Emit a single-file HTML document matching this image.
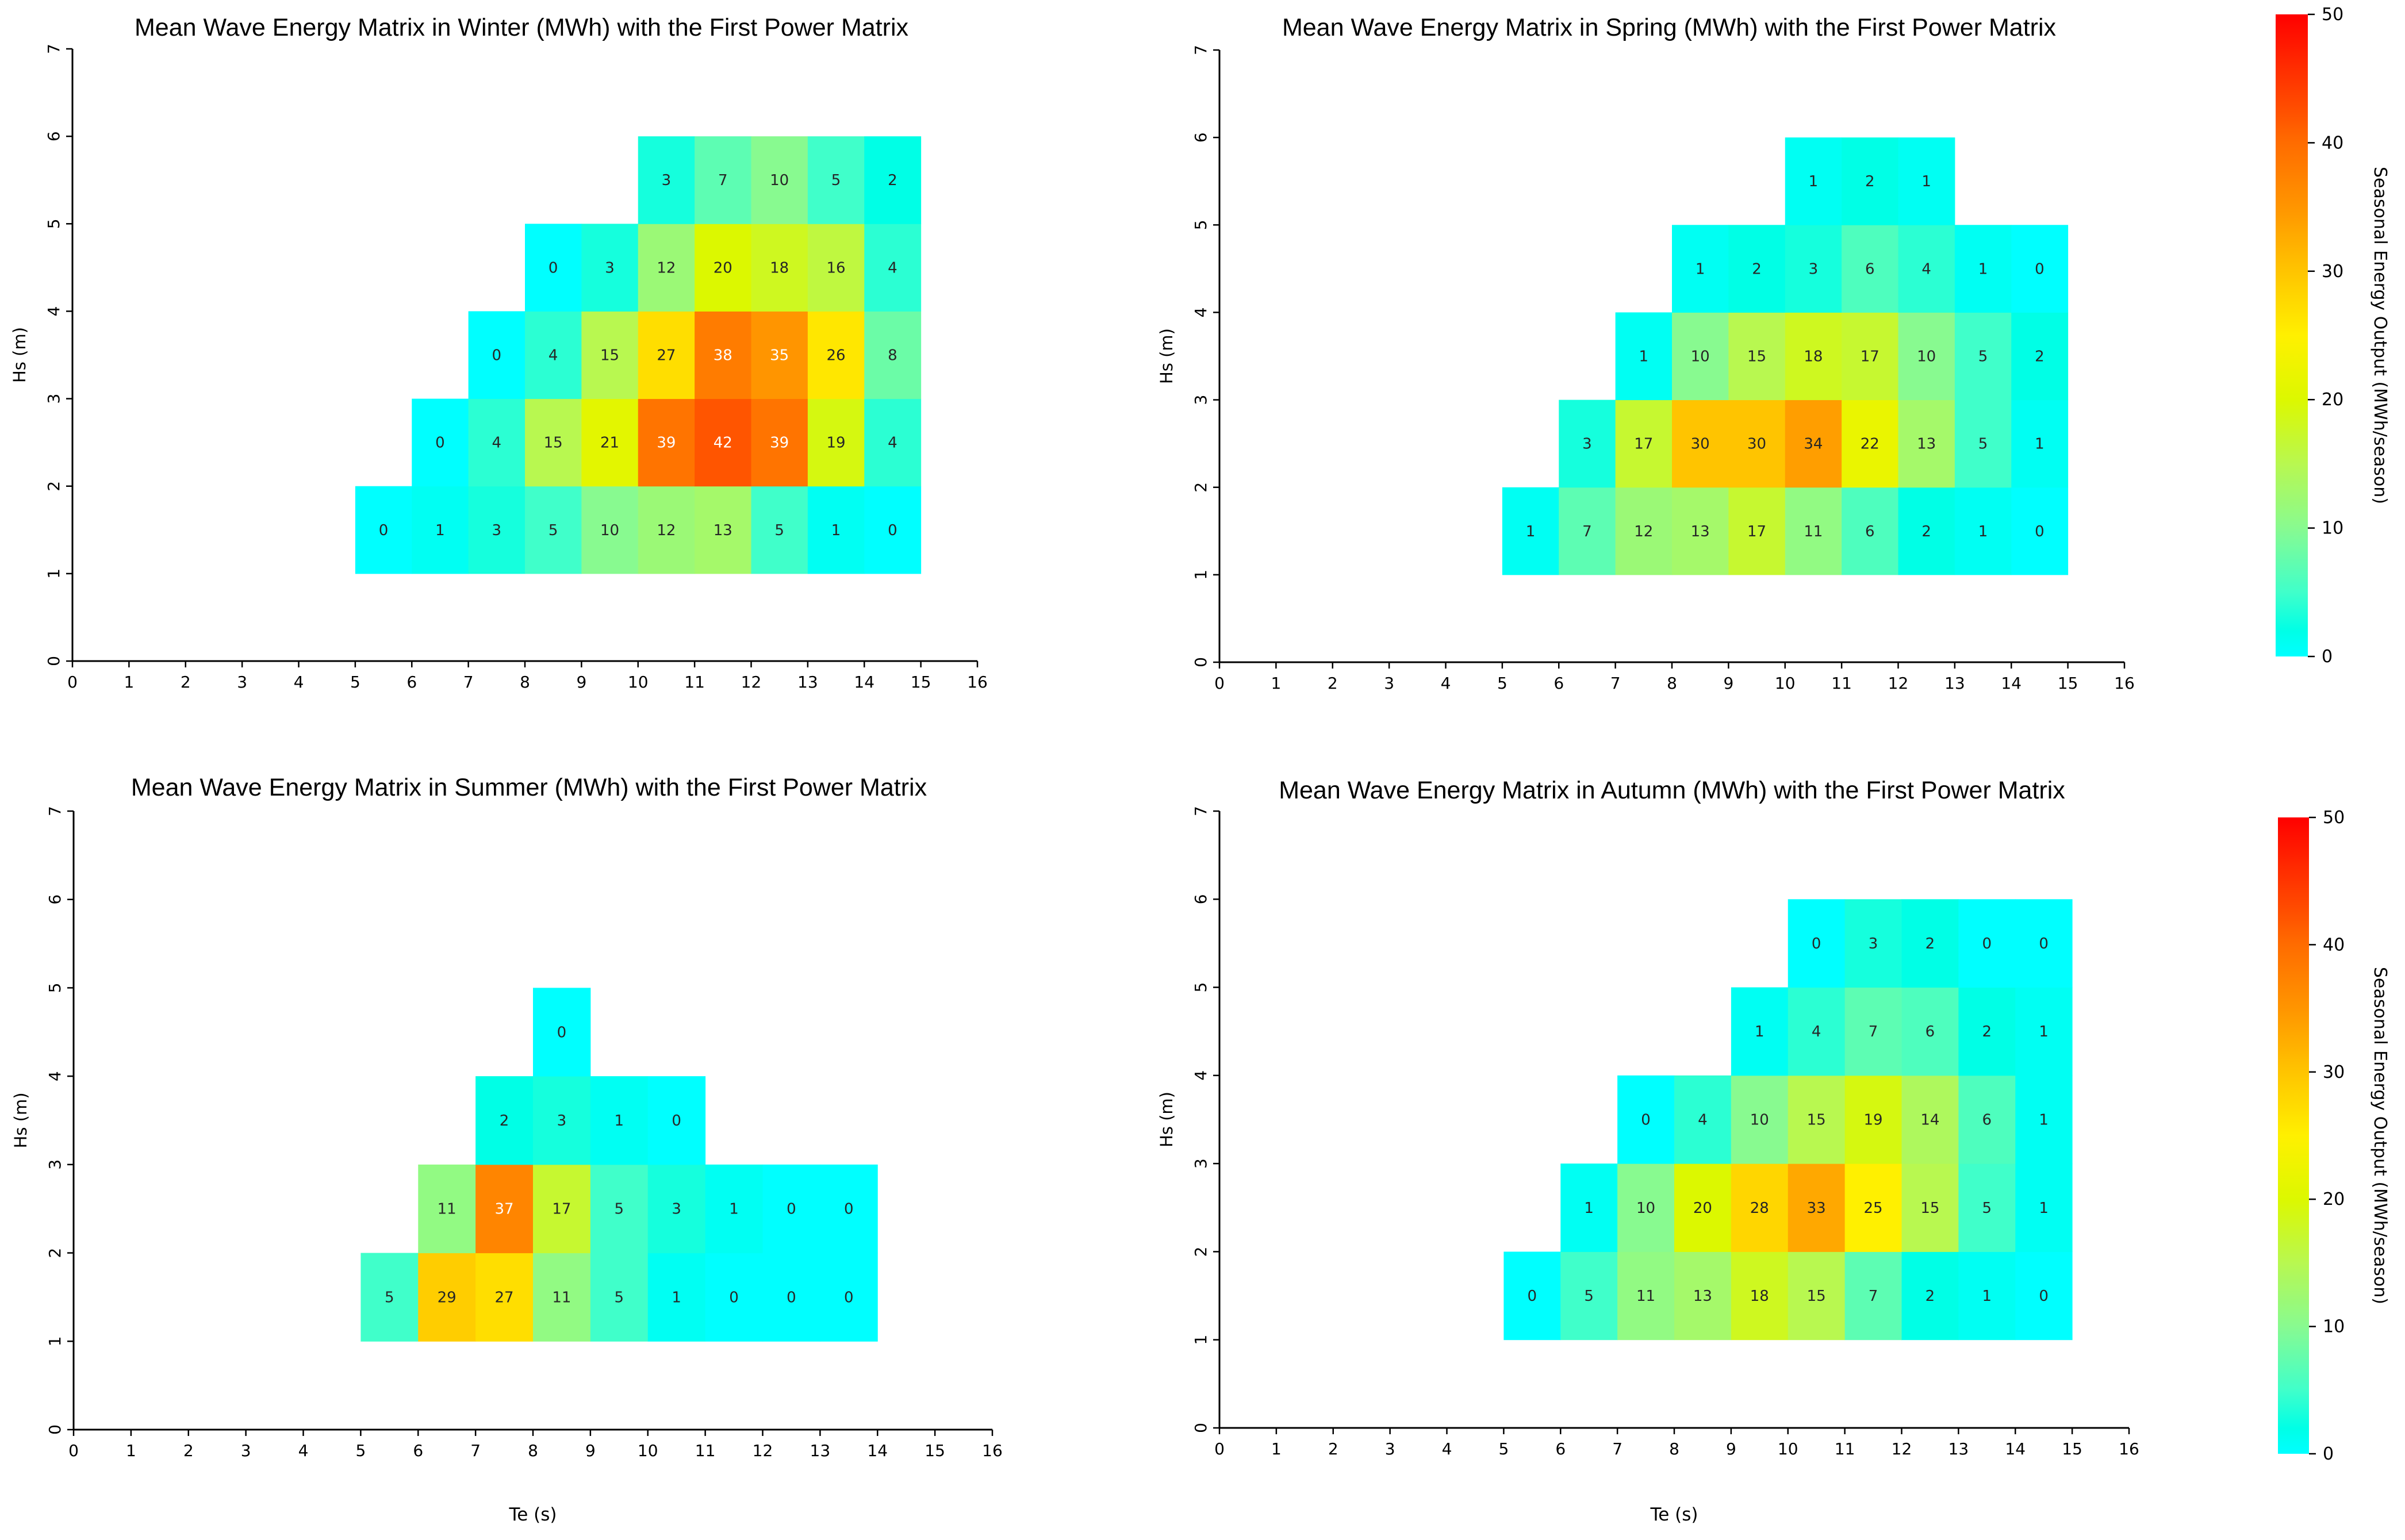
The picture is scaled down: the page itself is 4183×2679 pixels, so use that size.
<!DOCTYPE html>
<html><head><meta charset="utf-8"><style>
body{margin:0;background:#fff}
svg{display:block;font-family:"DejaVu Sans","Liberation Sans",sans-serif}
</style></head><body>
<svg id="fig" width="4183" height="2679" viewBox="0 0 4183 2679" xmlns="http://www.w3.org/2000/svg"></svg>
<script>
// Data: rows by Hs (lower bound), each starting at teStart
const winterHs=[1,2,3,4,5];
const winterTeStart=[5,6,7,8,10];
const winterValues=[[0,1,3,5,10,12,13,5,1,0],[0,4,15,21,39,42,39,19,4],[0,4,15,27,38,35,26,8],[0,3,12,20,18,16,4],[3,7,10,5,2]];
const springHs=[1,2,3,4,5];
const springTeStart=[5,6,7,8,10];
const springValues=[[1,7,12,13,17,11,6,2,1,0],[3,17,30,30,34,22,13,5,1],[1,10,15,18,17,10,5,2],[1,2,3,6,4,1,0],[1,2,1]];
const summerHs=[1,2,3,4];
const summerTeStart=[5,6,7,8];
const summerValues=[[5,29,27,11,5,1,0,0,0],[11,37,17,5,3,1,0,0],[2,3,1,0],[0]];
const autumnHs=[1,2,3,4,5];
const autumnTeStart=[5,6,7,9,10];
const autumnValues=[[0,5,11,13,18,15,7,2,1,0],[1,10,20,28,33,25,15,5,1],[0,4,10,15,19,14,6,1],[1,4,7,6,2,1],[0,3,2,0,0]];
const xTicks=[0,1,2,3,4,5,6,7,8,9,10,11,12,13,14,15,16];
const yTicks=[0,1,2,3,4,5,6,7];
const cbTicks=[0,10,20,30,40,50];

const NS="http://www.w3.org/2000/svg";
const svg=document.getElementById('fig');
function mk(tag,attrs,parent){const e=document.createElementNS(NS,tag);for(const k in attrs)e.setAttribute(k,attrs[k]);(parent||svg).appendChild(e);return e;}
const stops=[[0,[0,255,255]],[2,[0,255,230]],[5,[64,255,202]],[10,[136,250,144]],[15,[184,248,80]],[20,[220,248,0]],[25,[255,240,0]],[30,[255,196,0]],[35,[255,149,0]],[40,[255,108,0]],[42,[255,85,0]],[50,[255,0,0]]];
function color(v){v=Math.max(0,Math.min(50,v));for(let i=0;i<stops.length-1;i++){const [a,ca]=stops[i],[b,cb]=stops[i+1];if(v<=b){const t=(v-a)/(b-a);return 'rgb('+ca.map((c,j)=>Math.round(c+(cb[j]-c)*t)).join(',')+')';}}return 'rgb(255,0,0)';}

function panel(name,title,x0,x1,y0,y7,titleX,titleY,hs,teStart,values,showX){
  const g=mk('g',{});
  
  
  const sx=v=>x0+(x1-x0)*v/16, sy=v=>y0-(y0-y7)*v/7;
  hs.forEach((h,r)=>{values[r].forEach((val,c)=>{
    const te=teStart[r]+c;
    const rect=mk('rect',{x:sx(te),y:sy(h+1),width:sx(te+1)-sx(te)+0.5,height:sy(h)-sy(h+1)+0.5,fill:color(val)},g);
    
    
  });});
  hs.forEach((h,r)=>{values[r].forEach((val,c)=>{
    const te=teStart[r]+c;
    const t=mk('text',{x:(sx(te)+sx(te+1))/2,y:(sy(h)+sy(h+1))/2+9,'text-anchor':'middle','font-size':26,fill:val>34.5?'#fff':'#262626'},g);
    t.textContent=val;
    
    
  });});
  mk('line',{x1:x0,y1:y0,x2:x1,y2:y0,stroke:'#000','stroke-width':3},g);
  mk('line',{x1:x0,y1:y0,x2:x0,y2:y7,stroke:'#000','stroke-width':3},g);
  xTicks.forEach(v=>{mk('line',{x1:sx(v),y1:y0,x2:sx(v),y2:y0+11,stroke:'#000','stroke-width':2.5},g);
    const t=mk('text',{x:sx(v),y:y0+46,'text-anchor':'middle','font-size':28,fill:'#000'},g);t.textContent=v;
    
    });
  yTicks.forEach(v=>{mk('line',{x1:x0-11,y1:sy(v),x2:x0,y2:sy(v),stroke:'#000','stroke-width':2.5},g);
    const t=mk('text',{x:x0-33,y:sy(v),'text-anchor':'middle','font-size':28,fill:'#000',transform:'rotate(-90 '+(x0-33)+' '+sy(v)+')',dy:'0.35em'},g);t.textContent=v;
    
    });
  const yl=mk('text',{x:x0-82,y:(y0+y7)/2,'text-anchor':'middle','font-size':29,fill:'#000',transform:'rotate(-90 '+(x0-82)+' '+((y0+y7)/2)+')'},g);
  yl.textContent='Hs (m)';
  
  
  if(showX){const xl=mk('text',{x:(x0+x1)/2,y:2645,'text-anchor':'middle','font-size':31,fill:'#000'},g);xl.textContent='Te (s)';
    
    }
  const tt=mk('text',{x:titleX,y:titleY,'text-anchor':'middle','font-size':43,fill:'#000',style:'font-family:"Liberation Sans",sans-serif'},g);
  tt.textContent=title;
  
  
}
panel('winter','Mean Wave Energy Matrix in Winter (MWh) with the First Power Matrix',126,1700,1150,85,907,62,winterHs,winterTeStart,winterValues,false);
panel('spring','Mean Wave Energy Matrix in Spring (MWh) with the First Power Matrix',2121,3695,1152,87,2903,62,springHs,springTeStart,springValues,false);
panel('summer','Mean Wave Energy Matrix in Summer (MWh) with the First Power Matrix',128,1726,2487,1411,920,1384,summerHs,summerTeStart,summerValues,true);
panel('autumn','Mean Wave Energy Matrix in Autumn (MWh) with the First Power Matrix',2121,3703,2484,1411,2908,1389,autumnHs,autumnTeStart,autumnValues,true);

const defs=mk('defs',{});
const lg=mk('linearGradient',{id:'cbg',x1:0,y1:1,x2:0,y2:0},defs);
for(let v=0;v<=50;v+=1)mk('stop',{offset:(v/50),'stop-color':color(v)},lg);
function colorbar(name,x,y1,y2,w){
  const g=mk('g',{});
  
  
  mk('rect',{x:x,y:y1,width:w,height:y2-y1,fill:'url(#cbg)'},g);
  cbTicks.forEach(v=>{const yy=y2-(y2-y1)*v/50;mk('line',{x1:x+w,y1:yy,x2:x+w+12,y2:yy,stroke:'#000','stroke-width':2.5},g);
    const t=mk('text',{x:x+w+24,y:yy+10,'font-size':30,fill:'#000'},g);t.textContent=v;
    
    });
  const cx=4130,cy=(y1+y2)/2;
  const l=mk('text',{x:cx,y:cy,'text-anchor':'middle','font-size':30,fill:'#000',transform:'rotate(90 '+cx+' '+cy+')'},g);
  l.textContent='Seasonal Energy Output (MWh/season)';
  
  
}
colorbar('colorbar-top',3958,25,1142,56);
colorbar('colorbar-bottom',3962,1422,2529,54);
</script>
</body></html>
